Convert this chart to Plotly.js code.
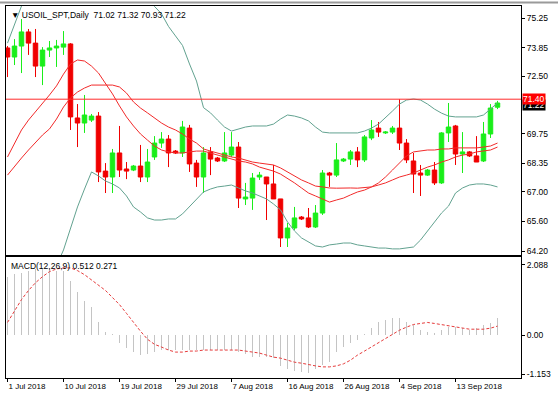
<!DOCTYPE html>
<html><head><meta charset="utf-8">
<script src="https://cdn.plot.ly/plotly-3.0.1.min.js"></script>
<style>html,body{margin:0;padding:0;background:#fff}#chart{width:558px;height:396px}</style>
</head><body><div id="chart"></div>
<script>
// Daily bars (Sunday-Friday sessions)
const dates = [
"2018-07-01","2018-07-02","2018-07-03","2018-07-04","2018-07-05","2018-07-06",
"2018-07-08","2018-07-09","2018-07-10","2018-07-11","2018-07-12","2018-07-13",
"2018-07-15","2018-07-16","2018-07-17","2018-07-18","2018-07-19","2018-07-20",
"2018-07-22","2018-07-23","2018-07-24","2018-07-25","2018-07-26","2018-07-27",
"2018-07-29","2018-07-30","2018-07-31","2018-08-01","2018-08-02","2018-08-03",
"2018-08-05","2018-08-06","2018-08-07","2018-08-08","2018-08-09","2018-08-10",
"2018-08-12","2018-08-13","2018-08-14","2018-08-15","2018-08-16","2018-08-17",
"2018-08-19","2018-08-20","2018-08-21","2018-08-22","2018-08-23","2018-08-24",
"2018-08-26","2018-08-27","2018-08-28","2018-08-29","2018-08-30","2018-08-31",
"2018-09-02","2018-09-03","2018-09-04","2018-09-05","2018-09-06","2018-09-07",
"2018-09-09","2018-09-10","2018-09-11","2018-09-12","2018-09-13","2018-09-14",
"2018-09-16","2018-09-17","2018-09-18","2018-09-19","2018-09-20"];

const openP = [73.83,73.40,73.92,74.59,74.06,72.97,73.73,73.83,73.87,74.02,70.51,70.27,70.41,70.60,67.99,67.71,68.85,68.09,68.04,68.23,67.71,68.66,69.32,69.51,68.94,68.85,70.03,68.37,67.71,68.90,68.61,68.47,68.75,69.13,66.67,66.71,67.71,67.71,67.38,66.67,64.82,65.29,65.81,65.77,65.34,66.00,67.90,67.80,68.47,68.56,68.90,68.52,69.56,70.03,69.80,69.84,70.03,69.32,68.47,67.90,67.80,68.04,67.43,69.80,70.13,68.80,68.90,68.71,68.47,69.75,71.02];
const highP = [73.92,74.25,75.20,74.73,74.73,73.87,74.16,74.21,74.63,74.06,71.17,71.60,70.70,70.79,68.37,69.04,70.13,68.42,68.28,69.23,69.04,69.65,69.84,69.70,68.99,70.37,70.18,68.52,69.13,69.13,68.66,69.84,69.84,69.37,67.43,67.90,67.95,67.71,68.28,66.67,65.53,66.29,65.86,66.24,66.38,68.04,67.95,69.32,68.61,68.99,69.13,69.70,70.41,70.32,69.89,70.13,71.40,69.51,68.85,68.28,68.09,68.42,69.84,71.22,70.18,69.84,68.94,69.65,70.32,71.17,71.32];
const lowP = [72.45,73.02,72.64,73.50,72.45,72.07,73.40,72.93,73.50,69.94,69.13,69.80,70.32,67.47,66.95,66.95,67.71,67.61,67.99,67.47,67.47,68.52,69.09,68.18,68.80,68.66,67.95,67.24,66.95,67.80,68.42,68.42,68.66,66.24,66.38,66.15,67.57,65.67,66.67,64.39,64.39,65.20,65.67,65.29,65.29,65.91,67.24,67.71,68.42,68.28,68.18,68.42,69.46,69.61,69.75,69.75,68.99,68.37,66.95,66.81,67.76,67.33,67.38,69.37,68.28,67.90,68.66,68.42,68.42,69.56,70.93];
const closeP = [73.40,73.92,74.59,74.06,72.97,73.73,73.83,73.92,74.02,70.56,70.27,70.65,70.60,67.95,67.71,68.85,68.04,67.99,68.23,67.71,68.42,69.32,69.51,68.85,68.85,70.08,68.33,67.71,68.85,68.56,68.47,68.85,69.13,66.71,66.76,67.66,67.80,67.38,66.67,64.82,65.29,65.77,65.72,65.34,66.00,67.90,67.80,68.52,68.56,68.90,68.52,69.61,69.94,69.84,69.84,70.03,69.32,68.52,67.85,67.80,68.04,67.43,69.80,70.08,68.80,68.90,68.71,68.42,69.75,70.98,71.22];

// Moving averages (red)
const maFast = [68.66,69.32,69.94,70.41,70.79,71.22,71.60,72.03,72.59,73.07,73.26,73.21,72.97,72.64,72.17,71.65,71.08,70.56,70.13,69.75,69.46,69.18,68.99,68.90,68.85,68.85,68.90,68.94,68.94,68.85,68.75,68.66,68.56,68.47,68.42,68.33,68.18,68.09,67.99,67.85,67.66,67.43,67.19,66.95,66.81,66.67,66.52,66.62,66.71,66.86,67.00,67.09,67.24,67.43,67.71,68.04,68.37,68.71,68.90,68.94,68.99,68.99,69.04,69.04,69.09,69.09,69.09,69.09,69.13,69.18,69.32];
const maSlow = [67.80,68.23,68.61,68.99,69.37,69.70,69.99,70.46,71.03,71.46,71.74,71.93,72.07,72.07,72.07,72.07,71.98,71.69,71.27,70.98,70.75,70.51,70.27,70.08,69.94,69.75,69.51,69.32,69.04,68.94,68.85,68.75,68.66,68.61,68.52,68.42,68.37,68.33,68.28,68.14,67.95,67.76,67.57,67.43,67.28,67.24,67.19,67.18,67.20,67.19,67.18,67.20,67.24,67.33,67.43,67.57,67.71,67.80,67.90,68.04,68.18,68.28,68.42,68.52,68.66,68.75,68.80,68.90,68.94,68.99,69.13];
// Bollinger bands
const bbUpper = [74.06,74.92,75.82,76.40,76.90,77.30,77.60,77.80,77.90,78.00,78.00,78.00,77.90,77.80,77.60,77.40,77.10,76.80,76.50,76.20,76.10,75.80,75.45,74.85,74.40,73.95,73.07,72.26,71.00,70.75,70.41,70.08,69.89,69.99,70.08,70.13,70.13,70.13,70.22,70.46,70.65,70.60,70.51,70.37,70.08,69.84,69.80,69.80,69.80,69.80,69.80,69.89,70.03,70.22,70.51,70.84,71.17,71.36,71.41,71.36,71.17,70.93,70.74,70.60,70.56,70.56,70.56,70.56,70.65,70.93,71.22];
const bbLower = [62.00,61.80,61.60,61.60,61.80,62.30,62.90,63.50,64.25,65.24,66.29,67.14,67.95,67.76,67.52,67.38,67.19,66.81,66.29,66.05,65.77,65.67,65.67,65.72,65.72,65.96,66.29,66.62,67.00,67.14,67.24,67.28,67.33,67.19,67.05,66.95,66.81,66.67,66.43,66.15,65.58,65.15,64.82,64.63,64.44,64.39,64.49,64.53,64.58,64.58,64.49,64.44,64.39,64.34,64.34,64.30,64.30,64.34,64.39,64.72,65.15,65.58,66.00,66.33,66.95,67.19,67.33,67.38,67.38,67.33,67.24];

// MACD(12,26,9): main (histogram) and signal (dashed)
const macdMain = [1.74,1.83,1.86,1.92,1.97,1.97,1.97,1.92,1.92,1.62,1.27,1.03,0.83,0.38,0.09,0.03,-0.24,-0.38,-0.50,-0.59,-0.56,-0.50,-0.44,-0.44,-0.44,-0.44,-0.44,-0.44,-0.44,-0.44,-0.44,-0.44,-0.44,-0.50,-0.56,-0.65,-0.65,-0.65,-0.68,-0.91,-1.00,-1.06,-1.09,-1.12,-1.00,-0.88,-0.80,-0.50,-0.35,-0.24,-0.15,0.03,0.21,0.38,0.44,0.50,0.50,0.38,0.29,0.15,0.09,0.06,0.15,0.24,0.24,0.21,0.15,0.21,0.29,0.35,0.512];
const macdSignal = [0.38,0.71,1.06,1.33,1.56,1.74,1.89,1.97,2.00,2.00,1.92,1.80,1.65,1.50,1.33,1.12,0.91,0.65,0.38,0.12,-0.12,-0.27,-0.35,-0.44,-0.50,-0.50,-0.47,-0.47,-0.44,-0.44,-0.44,-0.44,-0.44,-0.44,-0.47,-0.50,-0.53,-0.59,-0.65,-0.68,-0.74,-0.80,-0.83,-0.88,-0.91,-0.94,-0.94,-0.91,-0.85,-0.74,-0.59,-0.47,-0.35,-0.21,-0.09,0.03,0.15,0.24,0.32,0.35,0.38,0.35,0.32,0.27,0.24,0.21,0.18,0.18,0.18,0.21,0.271];

const dateTicks = ["2018-07-01","2018-07-10","2018-07-19","2018-07-29","2018-08-07","2018-08-16","2018-08-26","2018-09-04","2018-09-13"];
const dateTickText = ["1 Jul 2018","10 Jul 2018","19 Jul 2018","29 Jul 2018","7 Aug 2018","16 Aug 2018","26 Aug 2018","4 Sep 2018","13 Sep 2018"];
const priceTicks = [75.25,73.85,72.50,69.75,68.35,67.00,65.60,64.20];
const macdTicks = [2.088,0,-1.153];
const macdTickText = ["2.088","0.00","-1.153"];
const resistance = 71.40;
const lastClose = 71.22;

const FONT = "Liberation Sans, Arial, sans-serif";
const GREEN = "#1aee1a", RED = "#f00000", BAND = "#62a290", MA = "#f22a2a";

const traces = [
  {type:"scatter", mode:"lines", x:dates, y:bbUpper, xaxis:"x", yaxis:"y", line:{color:BAND,width:1}, hoverinfo:"skip"},
  {type:"scatter", mode:"lines", x:dates, y:bbLower, xaxis:"x", yaxis:"y", line:{color:BAND,width:1}, hoverinfo:"skip"},
  {type:"scatter", mode:"lines", x:dates, y:maSlow, xaxis:"x", yaxis:"y", line:{color:MA,width:1}, hoverinfo:"skip"},
  {type:"scatter", mode:"lines", x:dates, y:maFast, xaxis:"x", yaxis:"y", line:{color:MA,width:1}, hoverinfo:"skip"},
  {type:"candlestick", x:dates, open:openP, high:highP, low:lowP, close:closeP, xaxis:"x", yaxis:"y",
   increasing:{line:{color:GREEN,width:1}, fillcolor:GREEN},
   decreasing:{line:{color:RED,width:1}, fillcolor:RED}, whiskerwidth:0, hoverinfo:"skip"},
  {type:"bar", x:dates, y:macdMain, xaxis:"x2", yaxis:"y2", width:0.143, marker:{color:"#c4c4c4", line:{width:0}}, hoverinfo:"skip"},
  {type:"scatter", mode:"lines", x:dates, y:macdSignal, xaxis:"x2", yaxis:"y2", line:{color:"#e63c3c",width:1,dash:"3px,2px"}, hoverinfo:"skip"}
];

const axBase = {type:"category", range:[-0.2143,73.357], showgrid:false, zeroline:false, showline:true, mirror:true, linecolor:"#000", linewidth:1, fixedrange:true};
const layout = {
  width:558, height:396, margin:{l:6,r:37,t:6,b:18},
  paper_bgcolor:"#fff", plot_bgcolor:"#fff", showlegend:false,
  boxgap:0.2, boxgroupgap:0.2, bargap:0,
  font:{family:FONT, size:8.5, color:"#000"},
  xaxis:Object.assign({}, axBase, {anchor:"y", showticklabels:false, ticks:"", rangeslider:{visible:false}}),
  xaxis2:Object.assign({}, axBase, {anchor:"y2", matches:"x", tickmode:"array", tickvals:dateTicks, ticktext:dateTickText,
     tickangle:0, ticks:"outside", ticklen:3, tickcolor:"#000", ticklabelposition:"outside right", tickfont:{family:FONT,size:8,color:"#000"}}),
  yaxis:{domain:[0.3306,1], range:[64.01,75.82], side:"right", tickmode:"array", tickvals:priceTicks,
     ticktext:priceTicks.map(v=>v.toFixed(2)), ticks:"outside", ticklen:3, tickcolor:"#000",
     showgrid:false, zeroline:false, showline:true, mirror:true, linecolor:"#000", linewidth:1, fixedrange:true,
     tickfont:{family:FONT,size:8.5,color:"#000"}},
  yaxis2:{domain:[0,0.3253], range:[-1.27,2.325], side:"right", tickmode:"array", tickvals:macdTicks, ticktext:macdTickText,
     ticks:"outside", ticklen:3, tickcolor:"#000", showgrid:false, zeroline:false, showline:true, mirror:true,
     linecolor:"#000", linewidth:1, fixedrange:true, tickfont:{family:FONT,size:8.5,color:"#000"}},
  shapes:[
    {type:"line", xref:"x domain", x0:0, x1:1, yref:"y", y0:resistance, y1:resistance, line:{color:"#ff2a2a",width:1}},
    {type:"line", xref:"paper", x0:-0.02, x1:1.08, yref:"paper", y0:1.0094, y1:1.0094, line:{color:"#9a9a9a",width:2}}
  ],
  annotations:[
    {xref:"paper", x:0, xanchor:"left", xshift:3, yref:"paper", y:1, yanchor:"top", yshift:-2, showarrow:false,
     text:"▼ USOIL_SPT,Daily  71.02 71.32 70.93 71.22", font:{family:FONT,size:8.5,color:"#000"}},
    {xref:"paper", x:0, xanchor:"left", xshift:3, yref:"y2 domain", y:1, yanchor:"top", yshift:-2, showarrow:false,
     text:"MACD(12,26,9) 0.512 0.271", font:{family:FONT,size:8.5,color:"#000"}},
    {xref:"paper", x:1, xanchor:"left", xshift:1, yref:"y", y:lastClose, yanchor:"top", yshift:4, showarrow:false,
     text:lastClose.toFixed(2), bgcolor:"#000", borderpad:0, font:{family:FONT,size:8.5,color:"#fff"}},
    {xref:"paper", x:1, xanchor:"left", xshift:1, yref:"y", y:resistance, yanchor:"middle", showarrow:false,
     text:resistance.toFixed(2), bgcolor:"#ff0000", borderpad:0, font:{family:FONT,size:8.5,color:"#fff"}}
  ]
};
Plotly.newPlot("chart", traces, layout, {staticPlot:true, displayModeBar:false});
</script></body></html>
